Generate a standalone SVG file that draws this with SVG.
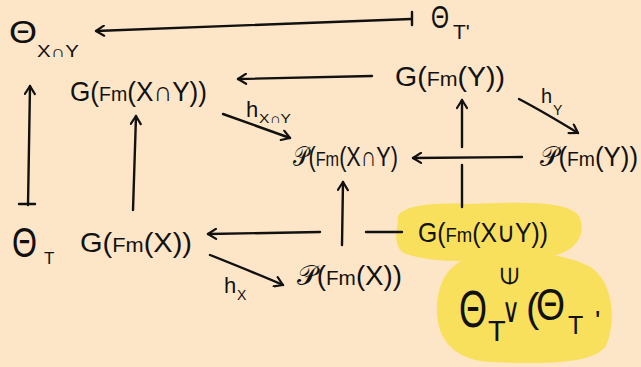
<svg xmlns="http://www.w3.org/2000/svg" width="641" height="367" viewBox="0 0 641 367">
<defs>
<style>
text{font-family:"Liberation Sans","DejaVu Sans",sans-serif;fill:#111}
.m{font-size:28px}
.f{font-size:21px}
.c{fill:none;stroke:#111;stroke-width:2.4;stroke-linecap:round;stroke-linejoin:round}
.hl{fill:#F8E05C}
</style>
<marker id="ah" viewBox="0 0 12 12" refX="10" refY="6" markerWidth="12" markerHeight="12" markerUnits="userSpaceOnUse" orient="auto">
<polyline points="2,1 10,6 2,11" fill="none" stroke="#111" stroke-width="2.2" stroke-linecap="round" stroke-linejoin="round"/>
</marker>
</defs>
<rect width="641" height="367" fill="#FDE6C7"/>
<g id="highlight">
<path class="hl" d="M398,222 C393,206 430,202 470,204 C520,202 572,200 580,218 C587,238 572,256 540,258 C480,262 425,264 402,252 C394,244 396,232 398,222 Z"/>
<path class="hl" d="M468,258 C500,248 562,250 592,268 C614,284 616,322 606,346 C592,365 540,364 490,362 C455,360 435,340 437,305 C439,278 450,265 468,258 Z"/>
</g>
<g id="n_theta_xy">
<text x="9" y="43" style="font-size:32px" textLength="28" lengthAdjust="spacingAndGlyphs">Θ</text>
<text x="37" y="57" style="font-size:16px" textLength="42" lengthAdjust="spacingAndGlyphs">X∩Y</text>
</g>
<g id="n_theta_t1">
<text x="431" y="28" style="font-size:31px" textLength="18" lengthAdjust="spacingAndGlyphs">Θ</text>
<text x="453" y="39" style="font-size:21px">T'</text>
</g>
<g id="n_g_xy"><text class="m" x="70" y="101" textLength="137" lengthAdjust="spacingAndGlyphs">G(<tspan class="f">Fm</tspan>(X∩Y))</text></g>
<g id="n_g_y"><text class="m" x="395" y="86" textLength="110" lengthAdjust="spacingAndGlyphs">G(<tspan class="f">Fm</tspan>(Y))</text></g>
<g id="n_p_xy"><text class="m" x="293" y="166" textLength="105" lengthAdjust="spacingAndGlyphs">𝒫(<tspan class="f">Fm</tspan>(X∩Y)</text></g>
<g id="n_p_y"><text class="m" x="540" y="166" textLength="98" lengthAdjust="spacingAndGlyphs">𝒫(<tspan class="f">Fm</tspan>(Y))</text></g>
<g id="n_theta_t">
<text x="12" y="257" style="font-size:43px" textLength="25" lengthAdjust="spacingAndGlyphs">Θ</text>
<text x="44" y="264" style="font-size:17px">T</text>
</g>
<g id="n_g_x"><text class="m" x="80" y="252" textLength="112" lengthAdjust="spacingAndGlyphs">G(<tspan class="f">Fm</tspan>(X))</text></g>
<g id="n_g_xuy"><text class="m" x="418" y="242" textLength="130" lengthAdjust="spacingAndGlyphs">G(<tspan class="f">Fm</tspan>(X∪Y))</text></g>
<g id="n_p_x"><text class="m" x="297" y="285" textLength="105" lengthAdjust="spacingAndGlyphs">𝒫(<tspan class="f">Fm</tspan>(X))</text></g>
<g id="n_in"><text x="0" y="0" style="font-size:24px" transform="translate(509,276) rotate(-90)" text-anchor="middle" dominant-baseline="central">∈</text></g>
<g id="n_join">
<text x="459" y="327" style="font-size:52px" textLength="28" lengthAdjust="spacingAndGlyphs">Θ</text>
<text x="488" y="341" style="font-size:29px">T</text>
<text x="502" y="322" style="font-size:34px" textLength="18" lengthAdjust="spacingAndGlyphs">∨</text>
<text x="526" y="322" style="font-size:40px">(</text>
<text x="536" y="320" style="font-size:44px" textLength="29" lengthAdjust="spacingAndGlyphs">Θ</text>
<text x="568" y="334" style="font-size:25px">T</text>
<text x="595" y="330" style="font-size:28px">'</text>
</g>
<g id="labels">
<text x="246" y="117" style="font-size:22px">h</text><text x="259" y="123" style="font-size:13px" textLength="32" lengthAdjust="spacingAndGlyphs">X∩Y</text>
<text x="541" y="103" style="font-size:20px">h</text><text x="553" y="115" style="font-size:14px">Y</text>
<text x="224" y="293" style="font-size:22px">h</text><text x="237" y="300" style="font-size:14px">X</text>
</g>
<g id="connectors">
<path class="c" d="M411,19 L96,31" marker-end="url(#ah)"/>
<path class="c" d="M412,12 L412,25"/>
<path class="c" d="M372,76 L238,79" marker-end="url(#ah)"/>
<path class="c" d="M223,114 C245,122 268,130 290,138" marker-end="url(#ah)"/>
<path class="c" d="M519,99 C540,110 560,122 578,133" marker-end="url(#ah)"/>
<path class="c" d="M522,157 L413,158" marker-end="url(#ah)"/>
<path class="c" d="M462,207 L462,165"/>
<path class="c" d="M462,147 L462,100" marker-end="url(#ah)"/>
<path class="c" d="M342,245 L343,182" marker-end="url(#ah)"/>
<path class="c" d="M28,205 L30,86" marker-end="url(#ah)"/>
<path class="c" d="M19,204 L35,204"/>
<path class="c" d="M133,210 L136,116" marker-end="url(#ah)"/>
<path class="c" d="M402,232 L366,232"/>
<path class="c" d="M320,232 L208,234" marker-end="url(#ah)"/>
<path class="c" d="M210,255 C235,265 260,275 283,285" marker-end="url(#ah)"/>
</g>
</svg>
